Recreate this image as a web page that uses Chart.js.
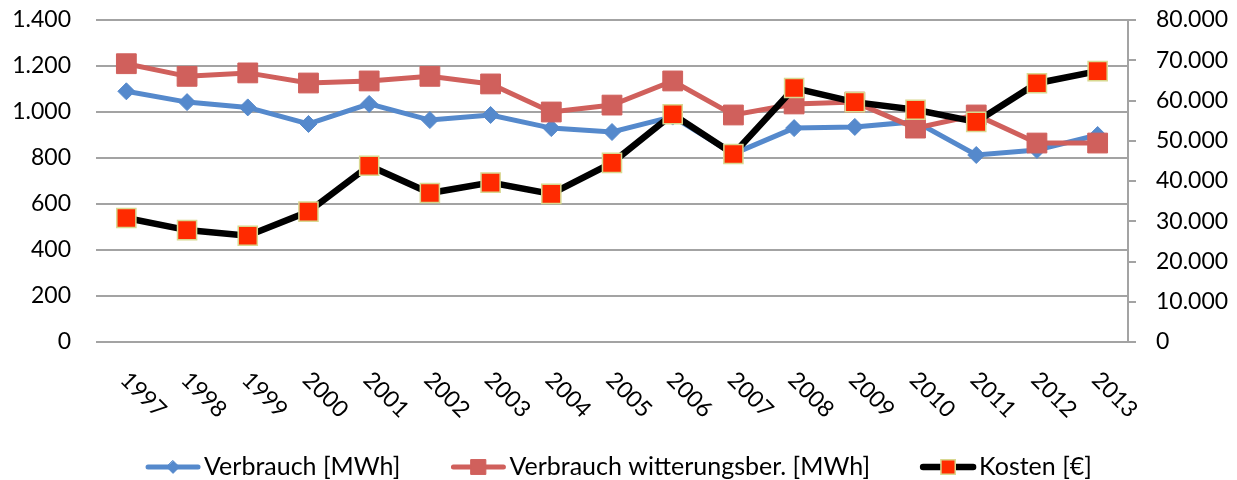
<!DOCTYPE html>
<html lang="de">
<head>
<meta charset="utf-8">
<title>Verbrauch und Kosten 1997–2013</title>
<script src="https://cdn.jsdelivr.net/npm/chart.js@4"></script>
<style>
  html, body { margin: 0; padding: 0; background: #fff; }
  #wrap { width: 1237px; height: 480px; }
</style>
</head>
<body>
<div id="wrap"><canvas id="energyChart" width="1237" height="480"></canvas></div>
<script>
// Daten
const years = ['1997', '1998', '1999', '2000', '2001', '2002', '2003', '2004', '2005',
               '2006', '2007', '2008', '2009', '2010', '2011', '2012', '2013'];
const verbrauch = [1090, 1043, 1020, 948, 1035, 965, 987, 930, 913,
                   980, 818, 930, 935, 958, 813, 835, 900];
const verbrauchWb = [1210, 1155, 1170, 1126, 1135, 1155, 1122, 1000, 1030,
                     1135, 987, 1035, 1043, 930, 987, 865, 865];
const kosten = [30800, 27800, 26400, 32400, 43800, 37000, 39600, 36800, 44500,
                56600, 46700, 63100, 59600, 57700, 54700, 64300, 67300];
const leftTicks = [0, 200, 400, 600, 800, 1000, 1200, 1400];
const rightTicks = [0, 10000, 20000, 30000, 40000, 50000, 60000, 70000, 80000];

const FONT = 'Lato';
const GRID = '#a3a3a3';

// Tausenderpunkt wie im Original
function deNum(v) {
    return String(v).replace(/\B(?=(\d{3})+(?!\d))/g, '.');
}

// Schräge Jahreszahlen (nach rechts unten geneigt)
const yearLabels = {
    id: 'yearLabels',
    afterDraw(chart) {
        const ctx = chart.ctx;
        const xs = chart.scales.x;
        const top = chart.chartArea.bottom + 34;
        ctx.save();
        ctx.font = '23px ' + FONT;
        ctx.fillStyle = '#000';
        ctx.textAlign = 'left';
        ctx.textBaseline = 'middle';
        years.forEach((y, i) => {
            ctx.save();
            ctx.translate(xs.getPixelForValue(i) - 2, top);
            ctx.rotate(Math.PI / 4);
            ctx.fillText(y, 0, 0);
            ctx.restore();
        });
        ctx.restore();
    }
};

// Legende mit Linie + Marker
function drawMarker(ctx, style, x, y, r) {
    ctx.beginPath();
    if (style === 'rectRot') {
        ctx.moveTo(x, y - r);
        ctx.lineTo(x + r, y);
        ctx.lineTo(x, y + r);
        ctx.lineTo(x - r, y);
    } else {
        const s = r * Math.SQRT1_2;
        ctx.rect(x - s, y - s, 2 * s, 2 * s);
    }
    ctx.closePath();
}

const bottomLegend = {
    id: 'bottomLegend',
    afterDraw(chart) {
        const ctx = chart.ctx;
        const symW = 56, gapText = 3, gapItem = 50, y = 467;
        ctx.save();
        ctx.font = '25px ' + FONT;
        const items = chart.data.datasets.map(ds => ({ ds, w: ctx.measureText(ds.label).width }));
        const total = items.reduce((s, it) => s + symW + gapText + it.w, 0) + gapItem * (items.length - 1);
        let x = (chart.width - total) / 2;
        items.forEach(({ ds, w }) => {
            ctx.strokeStyle = ds.borderColor;
            ctx.lineWidth = ds.borderWidth;
            ctx.lineCap = 'round';
            ctx.beginPath();
            ctx.moveTo(x + 3, y);
            ctx.lineTo(x + symW - 3, y);
            ctx.stroke();
            drawMarker(ctx, ds.pointStyle, x + symW / 2, y, ds.pointRadius * 0.75);
            ctx.fillStyle = ds.pointBackgroundColor;
            ctx.fill();
            ctx.strokeStyle = ds.pointBorderColor;
            ctx.lineWidth = ds.pointBorderWidth;
            ctx.stroke();
            ctx.fillStyle = '#000';
            ctx.textAlign = 'left';
            ctx.textBaseline = 'middle';
            ctx.fillText(ds.label, x + symW + gapText, y);
            x += symW + gapText + w + gapItem;
        });
        ctx.restore();
    }
};

Chart.defaults.font.family = FONT;
Chart.defaults.font.size = 23;
Chart.defaults.color = '#000';

const ctx = document.getElementById('energyChart').getContext('2d');
new Chart(ctx, {
    type: 'line',
    data: {
        labels: years,
        datasets: [{
            label: 'Verbrauch [MWh]',
            data: verbrauch,
            yAxisID: 'y',
            borderColor: '#5589cc',
            borderWidth: 5,
            pointStyle: 'rectRot',
            pointRadius: 8.5,
            pointBackgroundColor: '#5589cc',
            pointBorderColor: '#5589cc',
            pointBorderWidth: 1,
            order: 3
        }, {
            label: 'Verbrauch witterungsber. [MWh]',
            data: verbrauchWb,
            yAxisID: 'y',
            borderColor: '#d0605c',
            borderWidth: 5,
            pointStyle: 'rect',
            pointRadius: 14,
            pointBackgroundColor: '#d0605c',
            pointBorderColor: '#d0605c',
            pointBorderWidth: 1,
            order: 2
        }, {
            label: 'Kosten [€]',
            data: kosten,
            yAxisID: 'y1',
            borderColor: '#000000',
            borderWidth: 6.5,
            pointStyle: 'rect',
            pointRadius: 13.5,
            pointBackgroundColor: '#ff2a00',
            pointBorderColor: '#d8d890',
            pointBorderWidth: 1.5,
            order: 1
        }]
    },
    options: {
        responsive: false,
        animation: false,
        layout: { padding: { top: 20, left: 0, right: 0, bottom: 0 } },
        plugins: {
            legend: { display: false },
            tooltip: { enabled: false }
        },
        scales: {
            x: {
                offset: true,
                grid: { display: false },
                border: { display: false },
                ticks: { display: false },
                afterFit: s => { s.height = 138; }
            },
            y: {
                position: 'left',
                min: 0,
                max: 1400,
                afterBuildTicks: s => { s.ticks = leftTicks.map(v => ({ value: v })); },
                ticks: { padding: 25, callback: v => deNum(v) },
                grid: { color: GRID, lineWidth: 2, drawTicks: false },
                border: { display: false },
                afterFit: s => { s.width = 96; s.paddingTop = 0; s.paddingBottom = 0; }
            },
            y1: {
                position: 'right',
                min: 0,
                max: 80000,
                afterBuildTicks: s => { s.ticks = rightTicks.map(v => ({ value: v })); },
                ticks: { padding: 20, callback: v => deNum(v) },
                grid: { drawOnChartArea: false, color: GRID, lineWidth: 2, tickLength: 8 },
                border: { display: true, color: GRID, width: 2 },
                afterFit: s => { s.width = 109; s.paddingTop = 0; s.paddingBottom = 0; }
            }
        }
    },
    plugins: [yearLabels, bottomLegend]
});
</script>
</body>
</html>
